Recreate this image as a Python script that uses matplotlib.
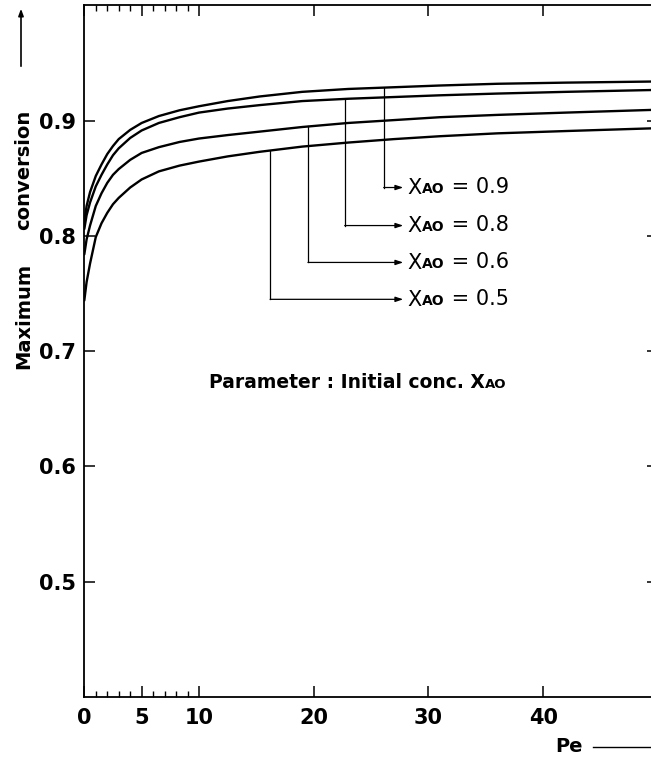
import numpy as np
import matplotlib
matplotlib.use("Agg")
import matplotlib.pyplot as plt

# =========================
# DATA
# =========================

pe = [0.0, 0.2, 0.5, 1.0, 1.5, 2.0, 2.5, 3.0, 4.0, 5.0, 6.5, 8.3,
      10.0, 12.5, 15.3, 19.0, 23.0, 27.0, 31.0, 36.0, 42.0, 50.0]

x_ao = ["0.9", "0.8", "0.6", "0.5"]

conv_09 = [0.812, 0.826, 0.838, 0.852, 0.862, 0.871, 0.878, 0.884, 0.892, 0.898, 0.904,
           0.909, 0.9125, 0.917, 0.921, 0.925, 0.9275, 0.929, 0.9305, 0.932, 0.933, 0.934]
conv_08 = [0.806, 0.818, 0.829, 0.843, 0.853, 0.862, 0.870, 0.876, 0.885, 0.8915, 0.898,
           0.903, 0.907, 0.9105, 0.9135, 0.917, 0.919, 0.9205, 0.922, 0.9235, 0.925, 0.9267]
conv_06 = [0.784, 0.797, 0.809, 0.826, 0.837, 0.846, 0.853, 0.858, 0.866, 0.872, 0.877,
           0.8815, 0.8845, 0.8875, 0.8905, 0.8945, 0.898, 0.9005, 0.903, 0.905, 0.907, 0.9095]
conv_05 = [0.744, 0.760, 0.776, 0.799, 0.811, 0.820, 0.8275, 0.833, 0.842, 0.849, 0.856,
           0.861, 0.8645, 0.869, 0.873, 0.8775, 0.881, 0.884, 0.8865, 0.889, 0.891, 0.8935]

series = [conv_09, conv_08, conv_06, conv_05]

# where the leader lines leave each curve, and where the labels sit
leader_pe = [26.1, 22.7, 19.5, 16.2]
label_y = [0.842, 0.809, 0.777, 0.745]

# =========================
# FIGURE
# =========================

fig = plt.figure(figsize=(6.51, 7.6), dpi=100)
ax = fig.add_axes([0.1295, 0.0829, 0.881, 0.910])

for ys in series:
    ax.plot(pe, ys, color="black", lw=1.7, solid_capstyle="round",
            solid_joinstyle="round")

ax.set_xlim(0, 50)
ax.set_ylim(0.4, 1.0)

ax.set_xticks([0, 5, 10, 20, 30, 40])
ax.set_xticks([1, 2, 3, 4, 6, 7, 8, 9], minor=True)
ax.set_yticks([0.5, 0.6, 0.7, 0.8, 0.9])
ax.set_yticklabels(["0.5", "0.6", "0.7", "0.8", "0.9"])

ax.tick_params(which="major", direction="in", top=True, right=True,
               length=8, width=1.1, labelsize=15, pad=8)
ax.tick_params(which="minor", direction="in", top=True, length=4, width=1.0)
ax.tick_params(axis="y", pad=6)
for lab in ax.get_xticklabels() + ax.get_yticklabels():
    lab.set_fontweight("bold")

for sp in ax.spines.values():
    sp.set_linewidth(1.3)


def small_caps_label(x, y, big, small, rest, size, small_size, weight):
    # "X" + small "AO" on the same baseline + rest of the text
    t1 = ax.text(x, y, big, fontsize=size, fontweight=weight,
                 va="baseline", ha="left")
    t2 = ax.annotate(small, xy=(1, 0), xycoords=t1, xytext=(0, 0.22 * size),
                     textcoords="offset points", fontsize=small_size,
                     fontweight="bold", va="baseline", ha="left")
    if rest:
        ax.annotate(rest, xy=(1, 0), xycoords=t2, xytext=(0, 0.22 * small_size),
                    textcoords="offset points", fontsize=size,
                    fontweight=weight, va="baseline", ha="left")


# =========================
# LEADERS + LABELS
# =========================

label_x = 27.8
for ys, xv, yh, name in zip(series, leader_pe, label_y, x_ao):
    yc = np.interp(xv, pe, ys)
    ax.plot([xv, xv], [yc, yh], color="black", lw=0.9)
    ax.annotate("", xy=(label_x, yh), xytext=(xv, yh),
                arrowprops=dict(arrowstyle="-|>,head_length=0.45,head_width=0.15",
                                color="black", lw=0.9, shrinkA=0, shrinkB=0))
    small_caps_label(label_x + 0.4, yh - 0.0055, "X", "AO", " = " + name,
                     15, 10, "normal")

small_caps_label(10.9, 0.668, "Parameter : Initial conc. X", "AO", "",
                 13.5, 9.5, "bold")

# =========================
# AXIS LABELS
# =========================

fig.text(24 / 651, 1 - 316 / 760, "Maximum", rotation=90, fontsize=14,
         fontweight="bold", ha="center", va="center")
fig.text(24 / 651, 1 - 170 / 760, "conversion", rotation=90, fontsize=14,
         fontweight="bold", ha="center", va="center")
fig.add_artist(matplotlib.patches.FancyArrowPatch(
    (21 / 651, 1 - 69 / 760), (21 / 651, 1 - 6 / 760),
    transform=fig.transFigure, arrowstyle="-|>,head_length=4,head_width=1.5",
    color="black", lw=1.2))

fig.text(555 / 651, 1 - 747 / 760, "Pe", fontsize=14, fontweight="bold",
         ha="left", va="center")
fig.add_artist(matplotlib.lines.Line2D(
    [593 / 651, 1.0], [1 - 747 / 760, 1 - 747 / 760],
    transform=fig.transFigure, color="black", lw=1.0))

fig.savefig("out.png", dpi=100)
